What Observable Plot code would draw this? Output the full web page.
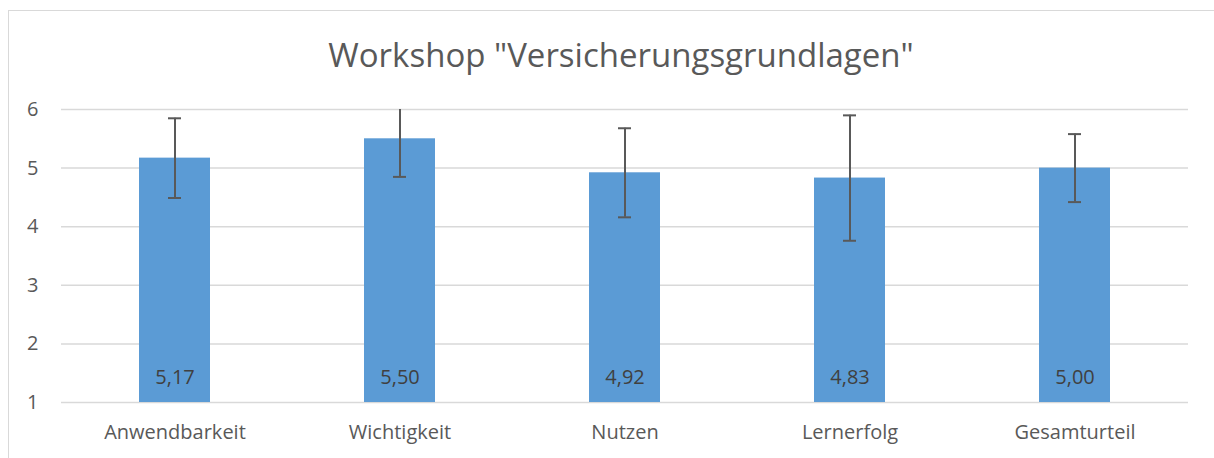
<!DOCTYPE html>
<html>
<head>
<meta charset="utf-8">
<script src="https://cdn.jsdelivr.net/npm/d3@7"></script>
<script src="https://cdn.jsdelivr.net/npm/@observablehq/plot@0.6"></script>
<style>
  html, body { margin: 0; padding: 0; background: #fff; }
  #wrap { position: relative; width: 1214px; height: 458px; overflow: hidden; font-family: "Open Sans", "Noto Sans", sans-serif; }
  #frame { position: absolute; left: 8px; top: 10px; width: 1300px; height: 600px; border-left: 1.5px solid #D9D9D9; border-top: 1.5px solid #D9D9D9; box-sizing: border-box; }
  #title { position: absolute; left: 0; top: 0; width: 1214px; height: 80px; text-align: center; font-size: 33px; line-height: 1; color: #595959; padding-top: 38px; padding-left: 28px; box-sizing: border-box; }
  #chart { position: absolute; left: 0; top: 80px; }
</style>
</head>
<body>
<div id="wrap">
  <div id="frame"></div>
  <div id="title">Workshop "Versicherungsgrundlagen"</div>
  <div id="chart"></div>
</div>
<script>
const categories = ["Anwendbarkeit", "Wichtigkeit", "Nutzen", "Lernerfolg", "Gesamturteil"];
const means = [5.17, 5.50, 4.92, 4.83, 5.00];
const errors = [0.68, 0.65, 0.76, 1.07, 0.58];
const yTicks = [1, 2, 3, 4, 5, 6];

const data = categories.map((c, i) => ({
  cat: c,
  mean: means[i],
  lo: means[i] - errors[i],
  hi: means[i] + errors[i],
  label: means[i].toFixed(2).replace(".", ",")
}));

const W = 1214, H = 378;
const mL = 61, mR = 26;
const padIn = 0.685;
const band = (W - mL - mR) / categories.length;
const barW = band * (1 - padIn);
const capW = 13;
const capInset = (barW - capW) / 2;

const chart = Plot.plot({
  width: W,
  height: H,
  marginLeft: mL,
  marginRight: mR,
  marginTop: 29,
  marginBottom: 56,
  style: { fontFamily: "'Open Sans', 'Noto Sans', sans-serif", fontSize: "20px", color: "#595959", background: "transparent" },
  x: { domain: categories, paddingInner: padIn, paddingOuter: padIn / 2, label: null, tickSize: 0, tickPadding: 22 },
  y: { domain: [1, 6], ticks: yTicks, tickFormat: d => String(d), label: null, tickSize: 0, tickPadding: 23 },
  marks: [
    Plot.gridY(yTicks, { stroke: "#D9D9D9", strokeOpacity: 1, strokeWidth: 1.5 }),
    Plot.barY(data, { x: "cat", y1: 1, y2: "mean", fill: "#5B9BD5" }),
    Plot.ruleX(data, { x: "cat", y1: "lo", y2: "hi", stroke: "#595959", strokeWidth: 2, clip: true }),
    Plot.tickY(data, { x: "cat", y: "hi", stroke: "#595959", strokeWidth: 2, insetLeft: capInset, insetRight: capInset, clip: true }),
    Plot.tickY(data, { x: "cat", y: "lo", stroke: "#595959", strokeWidth: 2, insetLeft: capInset, insetRight: capInset, clip: true }),
    Plot.text(data, { x: "cat", y: 1, text: "label", dy: -25, fill: "#404040", fontSize: 20 })
  ]
});
document.getElementById("chart").appendChild(chart);
</script>
</body>
</html>
